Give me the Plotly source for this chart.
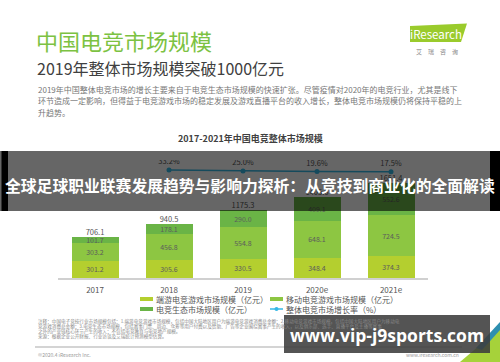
import plotly.graph_objects as go

W, H = 500, 362

years = ["2017", "2018", "2019", "2020e", "2021e"]
pc_game = [301.2, 305.6, 330.5, 348.4, 374.3]        # 端游电竞游戏市场规模
mobile_game = [303.2, 456.8, 554.8, 648.1, 724.5]    # 移动电竞游戏市场规模
ecosystem = [101.7, 178.1, 290.0, 409.1, 552.6]      # 电竞生态市场规模
totals = [706.1, 940.5, 1175.3, 1405.6, 1651.4]
growth_years = ["2018", "2019", "2020e", "2021e"]
growth = [33.2, 25.0, 19.6, 17.5]                    # 整体电竞市场增长率 (%)

series_names = ["端游电竞游戏市场规模（亿元）", "移动电竞游戏市场规模（亿元）",
                "电竞生态市场规模（亿元）", "整体电竞市场增长率（%）"]

FONT = "Noto Sans CJK SC"
C_PC, C_MOB, C_ECO, C_LINE = "#B4CF2F", "#8DC642", "#6AB446", "#35B8E6"


def px(x):
    return x / W


def py(y):
    return 1 - y / H


fig = go.Figure()
for vals, col, name in [(pc_game, C_PC, series_names[0]),
                        (mobile_game, C_MOB, series_names[1]),
                        (ecosystem, C_ECO, series_names[2])]:
    fig.add_trace(go.Bar(
        x=years, y=vals, name=name, marker=dict(color=col, line=dict(width=0)),
        text=[f"{v:.1f}" for v in vals], textposition="inside",
        insidetextanchor="middle",
        textfont=dict(size=7, color="#5c5c5c", family=FONT),
        showlegend=False))

fig.add_trace(go.Scatter(
    x=years, y=totals, mode="text", text=[f"{v:.1f}" for v in totals],
    textposition="top center", textfont=dict(size=7.5, color="#555", family=FONT),
    showlegend=False))

fig.add_trace(go.Scatter(
    x=growth_years, y=growth, yaxis="y2", mode="lines+markers+text",
    text=[f"{v:.1f}%" for v in growth], textposition="top center",
    textfont=dict(size=7.5, color="#555", family=FONT),
    line=dict(color=C_LINE, width=1.5), marker=dict(size=5, color=C_LINE),
    showlegend=False))

shapes = []
annotations = []

# legend (manual two-column layout)
leg = [(140, 299, C_PC, series_names[0], "bar"),
       (270, 299, C_MOB, series_names[1], "bar"),
       (140, 309, C_ECO, series_names[2], "bar"),
       (270, 309, C_LINE, series_names[3], "line")]
for x0, y0, col, name, kind in leg:
    if kind == "bar":
        shapes.append(dict(type="rect", xref="paper", yref="paper",
                           x0=px(x0), x1=px(x0 + 13), y0=py(y0 + 2), y1=py(y0 - 2),
                           fillcolor=col, line=dict(width=0)))
    else:
        shapes.append(dict(type="line", xref="paper", yref="paper",
                           x0=px(x0), x1=px(x0 + 13), y0=py(y0), y1=py(y0),
                           line=dict(color=col, width=1.5)))
        shapes.append(dict(type="circle", xref="paper", yref="paper",
                           x0=px(x0 + 4.5), x1=px(x0 + 8.5), y0=py(y0 + 2), y1=py(y0 - 2),
                           fillcolor=col, line=dict(width=0)))
    annotations.append(dict(text=name, x=px(x0 + 14), y=py(y0), xref="paper", yref="paper",
                            xanchor="left", yanchor="middle", showarrow=False,
                            font=dict(size=8, color="#555", family=FONT)))

# header texts
annotations += [
    dict(text="中国电竞市场规模", x=px(34), y=py(40), font=dict(size=22, color="#7CC242", family=FONT)),
    dict(text="2019年整体市场规模突破1000亿元", x=px(35), y=py(68), font=dict(size=16, color="#404040", family=FONT)),
    dict(text="2019年中国整体电竞市场的增长主要来自于电竞生态市场规模的快速扩张。尽管疫情对2020年的电竞行业，尤其是线下",
         x=px(36), y=py(89.5), font=dict(size=8, color="#777", family=FONT)),
    dict(text="环节造成一定影响，但得益于电竞游戏市场的稳定发展及游戏直播平台的收入增长，整体电竞市场规模仍将保持平稳的上",
         x=px(36), y=py(100.5), font=dict(size=8, color="#777", family=FONT)),
    dict(text="升趋势。", x=px(36), y=py(112), font=dict(size=8, color="#777", family=FONT)),
    dict(text="<b>2017-2021年中国电竞整体市场规模</b>", x=0.5, y=py(138), xanchor="center",
         font=dict(size=9, color="#404040", family=FONT)),
    dict(text="iResearch", x=px(436), y=py(33.5), xanchor="center", font=dict(size=11.5, color="white", family=FONT)),
    dict(text="艾　瑞　咨　询", x=px(437), y=py(52), xanchor="center", font=dict(size=6, color="#888", family=FONT)),
]
notes = ["注释：中国电子竞技行业市场规模包括：1.端游电竞游戏市场规模，包括中国大陆地区用户为端游电竞游戏消费总金额；2.移动电竞游戏市场规模，包括中国大陆地区用户为移动电",
         "竞游戏消费总金额；3.电竞生态市场规模，包括赛事门票、周边、众筹等用户付费以及赞助、广告等企业围绕赛事产生的收入，以及俱乐部、选手、直播平台及主播等赛事",
         "之外的产业链核心环节产生的收入；不包括电竞教育与电竞地产规模。",
         "来源：根据企业公开财报、行业访谈及艾瑞统计预测模型估算。"]
for i, t in enumerate(notes):
    annotations.append(dict(text=t, x=px(36), y=py(321 + 5 * i), font=dict(size=4.6, color="#888", family=FONT)))
annotations += [
    dict(text="©2020.4 iResearch Inc.", x=px(36), y=py(354), font=dict(size=5, color="#999", family=FONT)),
    dict(text="www.iresearch.com.cn", x=px(404), y=py(354), font=dict(size=5, color="#999", family=FONT)),
]
for a in annotations:
    a.setdefault("xref", "paper")
    a.setdefault("yref", "paper")
    a.setdefault("xanchor", "left")
    a.setdefault("yanchor", "middle")
    a.setdefault("showarrow", False)

# logo parallelogram
shapes.append(dict(type="path", xref="paper", yref="paper", layer="below",
                   path=f"M {px(410)},{py(26)} L {px(467)},{py(23.5)} L {px(461)},{py(42)} L {px(410)},{py(42)} Z",
                   fillcolor="#9ACB2C", line=dict(width=0)))
# footer separator
shapes.append(dict(type="line", xref="paper", yref="paper", x0=px(35), x1=px(462), y0=py(347), y1=py(347),
                   line=dict(color="#d4d4d4", width=2)))
# bottom-right decoration
shapes.append(dict(type="path", xref="paper", yref="paper",
                   path=f"M {px(460)},{py(362)} L {px(500)},{py(328)} L {px(500)},{py(362)} Z",
                   fillcolor="#A6D23A", line=dict(width=0)))
shapes.append(dict(type="path", xref="paper", yref="paper",
                   path=f"M {px(476)},{py(348)} L {px(500)},{py(322)} L {px(500)},{py(330)} L {px(482)},{py(350)} Z",
                   fillcolor="#2E8FB0", line=dict(width=0)))

# overlay banner
shapes += [
    dict(type="rect", xref="paper", yref="paper", x0=0, x1=1, y0=py(211), y1=py(151),
         fillcolor="rgba(0,0,0,0.6)", line=dict(width=0), layer="above"),
    dict(type="rect", xref="paper", yref="paper", x0=px(1.5), x1=px(8), y0=py(211), y1=py(151),
         fillcolor="#000", line=dict(width=0), layer="above"),
    dict(type="rect", xref="paper", yref="paper", x0=px(490), x1=1, y0=py(211), y1=py(151),
         fillcolor="#000", line=dict(width=0), layer="above"),
    dict(type="rect", xref="paper", yref="paper", x0=px(284), x1=px(490), y0=py(353), y1=py(315),
         fillcolor="rgba(60,60,60,0.88)", line=dict(width=0), layer="above"),
]
annotations += [
    dict(text="<b>全球足球职业联赛发展趋势与影响力探析：从竞技到商业化的全面解读</b>", x=0.5, y=py(185),
         xref="paper", yref="paper", xanchor="center", yanchor="middle", showarrow=False,
         font=dict(size=15.8, color="white", family=FONT)),
    dict(text="<b>www.vip-j9sports.com</b>", x=px(387), y=py(335),
         xref="paper", yref="paper", xanchor="center", yanchor="middle", showarrow=False,
         font=dict(size=17.5, color="white", family="Open Sans")),
]

fig.update_layout(
    width=W, height=H, margin=dict(l=0, r=0, t=0, b=0),
    paper_bgcolor="white", plot_bgcolor="white",
    barmode="stack", bargap=0.365,
    uniformtext=dict(minsize=7, mode="show"),
    font=dict(family=FONT),
    xaxis=dict(domain=[px(58), px(428)], showline=True, linecolor="#d0d0d0", linewidth=1.5,
               ticks="", showgrid=False, tickfont=dict(size=8, color="#555", family=FONT),
               ticklabelstandoff=4, anchor="y"),
    yaxis=dict(domain=[py(278), py(160)], range=[0, 2045], visible=False, showgrid=False),
    yaxis2=dict(overlaying="y", range=[-964, 126], visible=False, showgrid=False),
    shapes=shapes, annotations=annotations,
)

fig.write_html("out.html", config={"displayModeBar": False},
               post_script="document.body.style.margin='0';document.body.style.overflow='hidden';")
